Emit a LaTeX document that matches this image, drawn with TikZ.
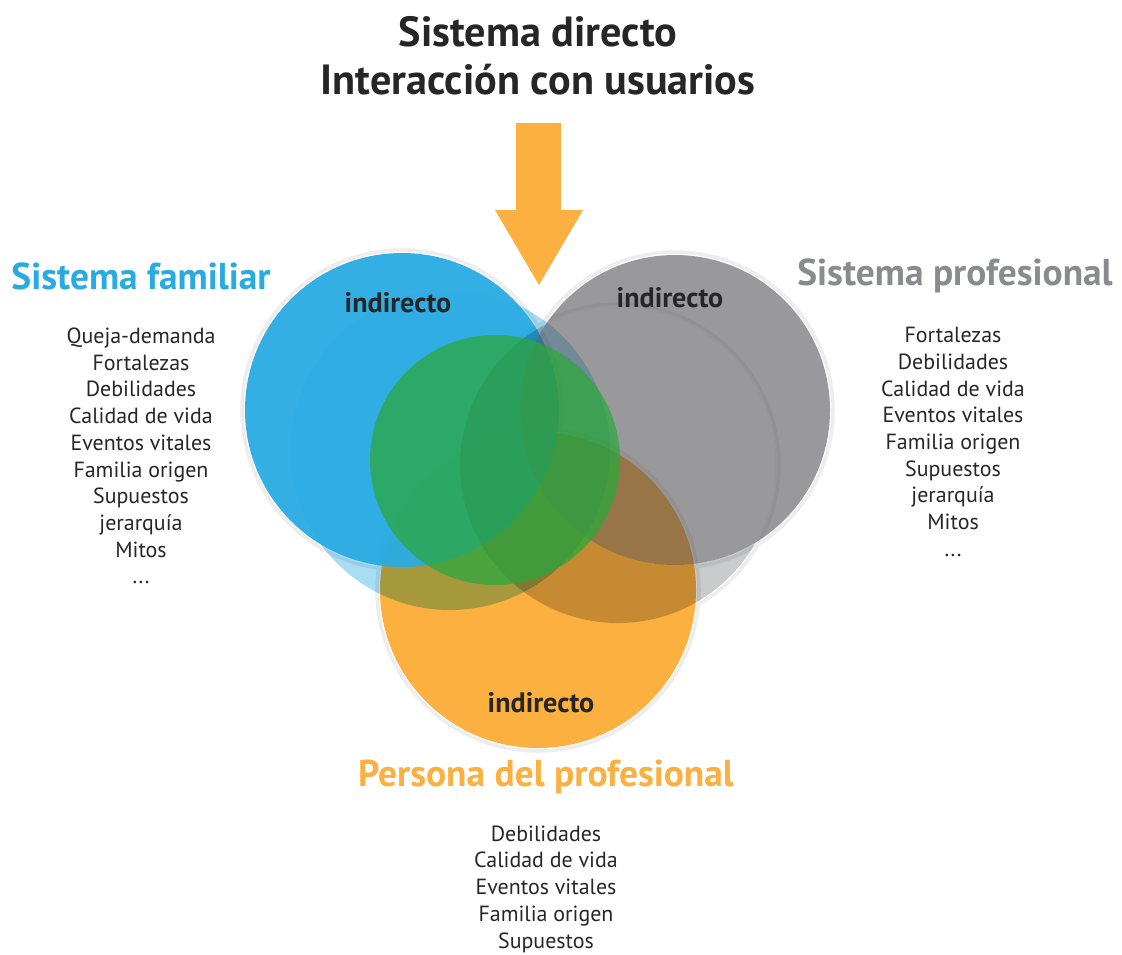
\documentclass[tikz,border=0pt]{standalone}
\usepackage{fontspec}
\setmainfont{PT Sans}

\definecolor{azul}{RGB}{41,171,226}
\definecolor{gris}{RGB}{70,70,75}
\definecolor{grisclaro}{RGB}{138,139,142}
\definecolor{naranja}{RGB}{251,176,64}
\definecolor{verde}{RGB}{44,168,62}

\begin{document}
\begin{tikzpicture}[x=0.025cm, y=-0.025cm,
	every node/.style={font=\fontsize{15.6}{19}\selectfont, align=center, text=black!85},
	titulo/.style={font=\fontsize{30}{34}\selectfont\bfseries},
	sistema/.style={font=\fontsize{26.6}{30}\selectfont\bfseries},
	indirecto/.style={font=\fontsize{20}{22}\selectfont\bfseries},
	halo/.style={draw=black!7, line width=2.5pt}]
	\useasboundingbox (0,0) rectangle (1122,954);
	% circulos (sistema profesional, familiar y persona)
	\draw[halo] (538,590) circle (161);
	\draw[halo] (402,410) circle (160);
	\draw[halo] (675,410) circle (158);
	\draw[halo] (618,465) circle (161);
	\fill[naranja] (538,590) circle (158);
	\fill[azul, fill opacity=0.4, blend mode=multiply] (450,450) circle (160);
	\fill[azul, fill opacity=0.95] (402,410) circle (157);
	% sombra gris, solo fuera del circulo principal
	\begin{scope}
		\clip (618,465) circle (158);
		\fill[grisclaro, fill opacity=0.45, blend mode=multiply, even odd rule] (618,465) circle (158) (675,410) circle (155);
	\end{scope}
	\fill[gris, fill opacity=0.55] (675,410) circle (155);
	\fill[verde, fill opacity=0.75] (495,460) circle (125);
	% flecha del sistema directo
	\fill[naranja] (516,123) -- (561,123) -- (561,210) -- (583,210) -- (539,285) -- (495,210) -- (516,210) -- cycle;
	\node[titulo] (directo) at (538,56) {Sistema directo\\Interacción con usuarios};
	\node[sistema, text=azul] (familiar) at (141,276) {Sistema familiar};
	\node[sistema, text=grisclaro] (profesional) at (955,276) {Sistema profesional};
	\node[sistema, text=naranja] (persona) at (546,777) {Persona del profesional};
	\node[indirecto] (ind-fam) at (398,303) {indirecto};
	\node[indirecto] (ind-prof) at (670,298) {indirecto};
	\node[indirecto] (ind-pers) at (541,703) {indirecto};
	\node (lista-fam) at (141,456) {Queja-demanda\\Fortalezas\\Debilidades\\Calidad de vida\\Eventos vitales\\Familia origen\\Supuestos\\jerarquía\\Mitos\\...};
	\node (lista-prof) at (953,442) {Fortalezas\\Debilidades\\Calidad de vida\\Eventos vitales\\Familia origen\\Supuestos\\jerarquía\\Mitos\\...};
	\node (lista-pers) at (546,889) {Debilidades\\Calidad de vida\\Eventos vitales\\Familia origen\\Supuestos};
\end{tikzpicture}
\end{document}
